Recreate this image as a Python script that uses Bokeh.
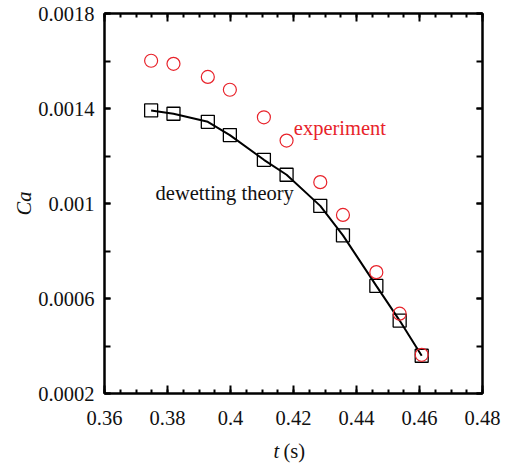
from bokeh.plotting import figure
from bokeh.models import Range1d, FixedTicker, LinearAxis, Label
from bokeh.embed import file_html
from bokeh.resources import INLINE

# data
t_exp = [0.3748, 0.3819, 0.3928, 0.3998, 0.4106, 0.4178, 0.4285, 0.4357, 0.4463, 0.4537, 0.4607]
ca_exp = [0.001601, 0.001588, 0.001533, 0.001479, 0.001363, 0.001265, 0.001090, 0.000952, 0.000711, 0.000536, 0.000363]
t_th = [0.3748, 0.3819, 0.3928, 0.3998, 0.4106, 0.4178, 0.4285, 0.4357, 0.4463, 0.4537, 0.4607]
ca_th = [0.001392, 0.001378, 0.001344, 0.001288, 0.001184, 0.001121, 0.000990, 0.000866, 0.000653, 0.000507, 0.000359]

x_ticks = [0.36, 0.38, 0.40, 0.42, 0.44, 0.46, 0.48]
x_tick_labels = ["0.36", "0.38", "0.4", "0.42", "0.44", "0.46", "0.48"]
x_minor = [0.36 + 0.005 * i for i in range(25)]
y_ticks = [0.0002, 0.0006, 0.0010, 0.0014, 0.0018]
y_tick_labels = ["0.0002", "0.0006", "0.001", "0.0014", "0.0018"]
y_minor = [0.0002, 0.0004, 0.0006, 0.0008, 0.0010, 0.0012, 0.0014, 0.0016, 0.0018]

RED = "#e8232b"
INK = "#111111"
FONT = "Liberation Serif"
FS = "20.5px"

p = figure(width=505, height=463, output_backend="svg", toolbar_location=None,
           x_range=Range1d(0.36, 0.48), y_range=Range1d(0.0002, 0.0018),
           min_border_left=104, min_border_right=23, min_border_top=13, min_border_bottom=70)
p.background_fill_color = "white"
p.border_fill_color = "white"
p.outline_line_color = "black"
p.outline_line_width = 2
p.xgrid.visible = False
p.ygrid.visible = False

def style_axis(ax, ticks, minor, labels, standoff, show):
    ax.ticker = FixedTicker(ticks=ticks, minor_ticks=minor)
    ax.axis_line_color = "black"
    ax.axis_line_width = 2
    ax.major_tick_line_color = "black"
    ax.major_tick_line_width = 2
    ax.minor_tick_line_color = "black"
    ax.minor_tick_line_width = 2
    ax.major_tick_out = 0
    ax.minor_tick_out = 0
    ax.major_label_text_font = FONT
    ax.major_label_text_font_size = FS
    ax.major_label_text_color = INK
    ax.major_label_standoff = standoff
    if show:
        ax.major_label_overrides = {tk: lb for tk, lb in zip(ticks, labels)}
    else:
        ax.major_label_overrides = {tk: "" for tk in ticks}

xa = p.xaxis[0]
style_axis(xa, x_ticks, x_minor, x_tick_labels, 17, True)
xa.major_tick_in = 8
xa.minor_tick_in = 4

ya = p.yaxis[0]
style_axis(ya, y_ticks, y_minor, y_tick_labels, 10, True)
ya.major_tick_in = 6
ya.minor_tick_in = 6
ya.axis_label = "Ca"
ya.axis_label_text_font = FONT
ya.axis_label_text_font_size = FS
ya.axis_label_text_font_style = "italic"
ya.axis_label_text_color = INK
ya.axis_label_standoff = 0

top = LinearAxis()
style_axis(top, x_ticks, x_minor, x_tick_labels, 0, False)
top.major_tick_in = 8
top.minor_tick_in = 4
top.major_label_text_font_size = "0px"
p.add_layout(top, "above")

right = LinearAxis()
style_axis(right, y_ticks, y_minor, y_tick_labels, 0, False)
right.major_tick_in = 6
right.minor_tick_in = 6
right.major_label_text_font_size = "0px"
p.add_layout(right, "right")

# theory line and squares
p.line(t_th, ca_th, line_color="black", line_width=2)
p.scatter(t_th, ca_th, marker="square", size=13, fill_color=None, line_color="black", line_width=1.3)
# experiment circles
p.scatter(t_exp, ca_exp, marker="circle", size=13, fill_color=None, line_color=RED, line_width=1.2)

# annotations
p.add_layout(Label(x=0.4201, y=0.0013158, text="experiment", text_color=RED,
                   text_font=FONT, text_font_size=FS, text_baseline="alphabetic"))
p.add_layout(Label(x=0.3762, y=0.0010451, text="dewetting theory", text_color=INK,
                   text_font=FONT, text_font_size=FS, text_baseline="alphabetic"))

# x title "t (s)" (italic t, upright (s)); held in side panels so it is not clipped,
# split over two panels so the frame keeps its size
p.add_layout(Label(x=0.41365, y=-0.00004, text="t", text_color=INK,
                   text_font=FONT, text_font_size=FS, text_font_style="italic",
                   text_baseline="alphabetic"), "left")
p.add_layout(Label(x=0.41683, y=-0.00004, text="(s)", text_color=INK,
                   text_font=FONT, text_font_size=FS, text_baseline="alphabetic"), "below")

open("out.html", "w").write(file_html(p, INLINE))
